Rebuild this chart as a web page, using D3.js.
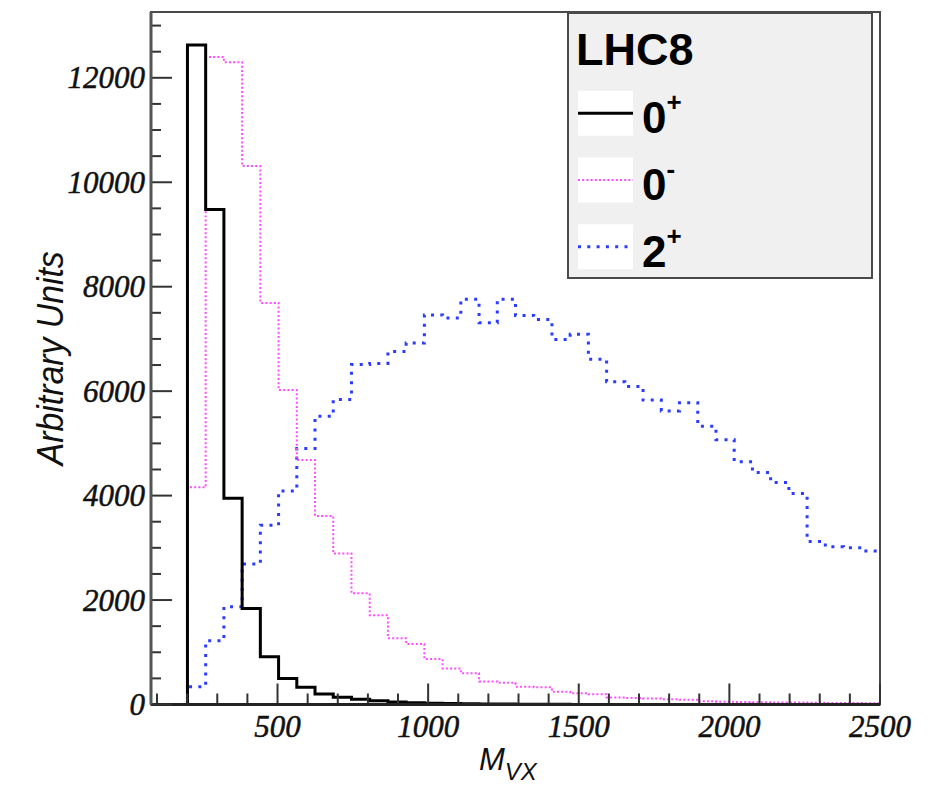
<!DOCTYPE html>
<html>
<head>
<meta charset="utf-8">
<script src="https://cdn.jsdelivr.net/npm/d3@7"></script>
<style>
  html, body { margin: 0; padding: 0; background: #fff; }
  svg { display: block; }
</style>
</head>
<body>
<svg id="chart" width="941" height="785"></svg>
<script>
// Histogram binning: 40 bins from 80 to 2500
const histMin = 80;
const histMax = 2500;
const nBins = 40;

// Bin contents (Arbitrary Units) per spin-parity hypothesis
const zeroPlus = [
  0, 0, 12630, 9480, 3950, 1840, 915, 500, 330, 200,
  140, 100, 70, 50, 35, 25, 20, 15, 10, 8,
  5, 4, 3, 2, 2, 1, 1, 1, 1, 0,
  0, 0, 0, 0, 0, 0, 0, 0, 0, 0
];
const zeroMinus = [
  0, 0, 4160, 12400, 12300, 10310, 7690, 6020, 4680, 3610,
  2890, 2130, 1710, 1270, 1160, 870, 690, 600, 440, 415,
  340, 330, 245, 215, 195, 135, 125, 115, 100, 90,
  60, 55, 50, 45, 40, 38, 35, 30, 30, 25
];
const twoPlus = [
  0, 0, 340, 1220, 1870, 2690, 3430, 4090, 4900, 5520,
  5840, 6510, 6530, 6760, 6920, 7460, 7400, 7760, 7310, 7760,
  7450, 7370, 6990, 7090, 6610, 6180, 6090, 5830, 5620, 5780,
  5330, 5070, 4650, 4440, 4250, 4040, 3120, 3020, 3000, 2940
];

const xTickLabels = [500, 1000, 1500, 2000, 2500];
const yTickLabels = [0, 2000, 4000, 6000, 8000, 10000, 12000];

const legendTitle = "LHC8";
const legendNames = [
  { base: "0", sup: "+" },
  { base: "0", sup: "-" },
  { base: "2", sup: "+" }
];

const yMax = 13260;

// ---- layout ----
const svg = d3.select("#chart");
const frame = { left: 151, right: 880, top: 12, bottom: 704.5 };

const x = d3.scaleLinear().domain([histMin, histMax]).range([frame.left, frame.right]);
const y = d3.scaleLinear().domain([0, yMax]).range([frame.bottom, frame.top]);

const binWidth = (histMax - histMin) / nBins;
const edges = d3.range(nBins + 1).map(i => histMin + i * binWidth);

svg.append("rect").attr("width", 941).attr("height", 785).attr("fill", "#fff");

// ---- histogram outlines ----
const series = [
  { values: twoPlus,   color: "#2a3cff", width: 3,   dash: "3,6.3" },
  { values: zeroMinus, color: "#ff4cff", width: 2,   dash: "2,2.2" },
  { values: zeroPlus,  color: "#000",    width: 3,   dash: null }
];

const stepLine = d3.line()
  .x(d => x(d[0]))
  .y(d => y(d[1]))
  .curve(d3.curveStepAfter);

const plot = svg.append("g");
series.forEach(s => {
  const pts = s.values.map((v, i) => [edges[i], v]);
  pts.push([edges[nBins], s.values[nBins - 1]]);
  plot.append("path")
    .attr("d", stepLine(pts))
    .attr("fill", "none")
    .attr("stroke", s.color)
    .attr("stroke-width", s.width)
    .attr("stroke-dasharray", s.dash)
    .attr("stroke-linejoin", "miter");
});

// ---- frame ----
svg.append("rect")
  .attr("x", frame.left).attr("y", frame.top)
  .attr("width", frame.right - frame.left)
  .attr("height", frame.bottom - frame.top)
  .attr("fill", "none")
  .attr("stroke", "#4a4a4a")
  .attr("stroke-width", 2);

// ---- axes (ticks inside the frame) ----
const axisColor = "#333";
const tickFont = "'Liberation Serif', 'Times New Roman', serif";

// x axis
const xMinor = d3.range(100, histMax + 1, 100);
const gx = svg.append("g");
gx.selectAll("line.minor").data(xMinor).join("line")
  .attr("x1", d => x(d)).attr("x2", d => x(d))
  .attr("y1", frame.bottom)
  .attr("y2", d => frame.bottom - (d % 500 === 0 ? 21 : 11))
  .attr("stroke", axisColor).attr("stroke-width", 2);
gx.append("line")
  .attr("x1", frame.left).attr("x2", frame.right)
  .attr("y1", frame.bottom).attr("y2", frame.bottom)
  .attr("stroke", "#222").attr("stroke-width", 3);
gx.selectAll("text").data(xTickLabels).join("text")
  .attr("x", d => x(d))
  .attr("y", 737)
  .attr("text-anchor", "middle")
  .attr("font-family", tickFont)
  .attr("font-style", "italic")
  .attr("font-size", 31)
  .attr("fill", "#111")
  .attr("stroke", "#111")
  .attr("stroke-width", 0.5)
  .text(d => d);

// y axis
const yMinor = d3.range(0, yMax, 500);
const gy = svg.append("g");
gy.selectAll("line").data(yMinor).join("line")
  .attr("x1", frame.left)
  .attr("x2", d => frame.left + (d % 2000 === 0 ? 21 : 10))
  .attr("y1", d => y(d)).attr("y2", d => y(d))
  .attr("stroke", axisColor).attr("stroke-width", 2);
gy.append("line")
  .attr("x1", frame.left).attr("x2", frame.left)
  .attr("y1", frame.top).attr("y2", frame.bottom)
  .attr("stroke", "#555").attr("stroke-width", 3);
gy.selectAll("text").data(yTickLabels).join("text")
  .attr("x", 145)
  .attr("y", d => y(d) + 10.5)
  .attr("text-anchor", "end")
  .attr("font-family", tickFont)
  .attr("font-style", "italic")
  .attr("font-size", 31)
  .attr("fill", "#111")
  .attr("stroke", "#111")
  .attr("stroke-width", 0.5)
  .text(d => d);

// ---- axis titles ----
const sansFont = "'Liberation Sans', Arial, Helvetica, sans-serif";
svg.append("text")
  .attr("transform", `translate(63, ${(frame.top + frame.bottom) / 2}) rotate(-90)`)
  .attr("text-anchor", "middle")
  .attr("font-family", sansFont)
  .attr("font-style", "italic")
  .attr("font-size", 36)
  .attr("textLength", 214)
  .attr("lengthAdjust", "spacingAndGlyphs")
  .attr("fill", "#111")
  .text("Arbitrary Units");

const xt = svg.append("text")
  .attr("x", 479).attr("y", 770)
  .attr("font-family", sansFont)
  .attr("font-style", "italic")
  .attr("fill", "#111");
xt.append("tspan").attr("font-size", 31).text("M");
xt.append("tspan").attr("font-size", 24).attr("dy", 10).text("VX");

// ---- legend ----
const lg = svg.append("g");
lg.append("rect")
  .attr("x", 568).attr("y", 13)
  .attr("width", 304).attr("height", 265)
  .attr("fill", "#f0f0f0")
  .attr("stroke", "#4a4a4a")
  .attr("stroke-width", 2);
lg.append("text")
  .attr("x", 576).attr("y", 65)
  .attr("font-family", sansFont)
  .attr("font-weight", "bold")
  .attr("font-size", 45)
  .attr("fill", "#000")
  .text(legendTitle);

const rowCenters = [113.3, 180, 246.7];
const legendSeries = [series[2], series[1], series[0]];
legendNames.forEach((nm, i) => {
  const cy = rowCenters[i];
  const s = legendSeries[i];
  lg.append("rect")
    .attr("x", 578).attr("y", cy - 22.5)
    .attr("width", 55).attr("height", 45)
    .attr("fill", "#fff");
  lg.append("line")
    .attr("x1", 578).attr("x2", 633)
    .attr("y1", cy).attr("y2", cy)
    .attr("stroke", s.color)
    .attr("stroke-width", s.width)
    .attr("stroke-dasharray", s.dash);
  const t = lg.append("text")
    .attr("x", 642).attr("y", cy + 20)
    .attr("font-family", sansFont)
    .attr("font-weight", "bold")
    .attr("font-size", 44)
    .attr("fill", "#000");
  t.append("tspan").text(nm.base);
  t.append("tspan").attr("font-size", 26).attr("dy", -22).text(nm.sup);
});
</script>
</body>
</html>
